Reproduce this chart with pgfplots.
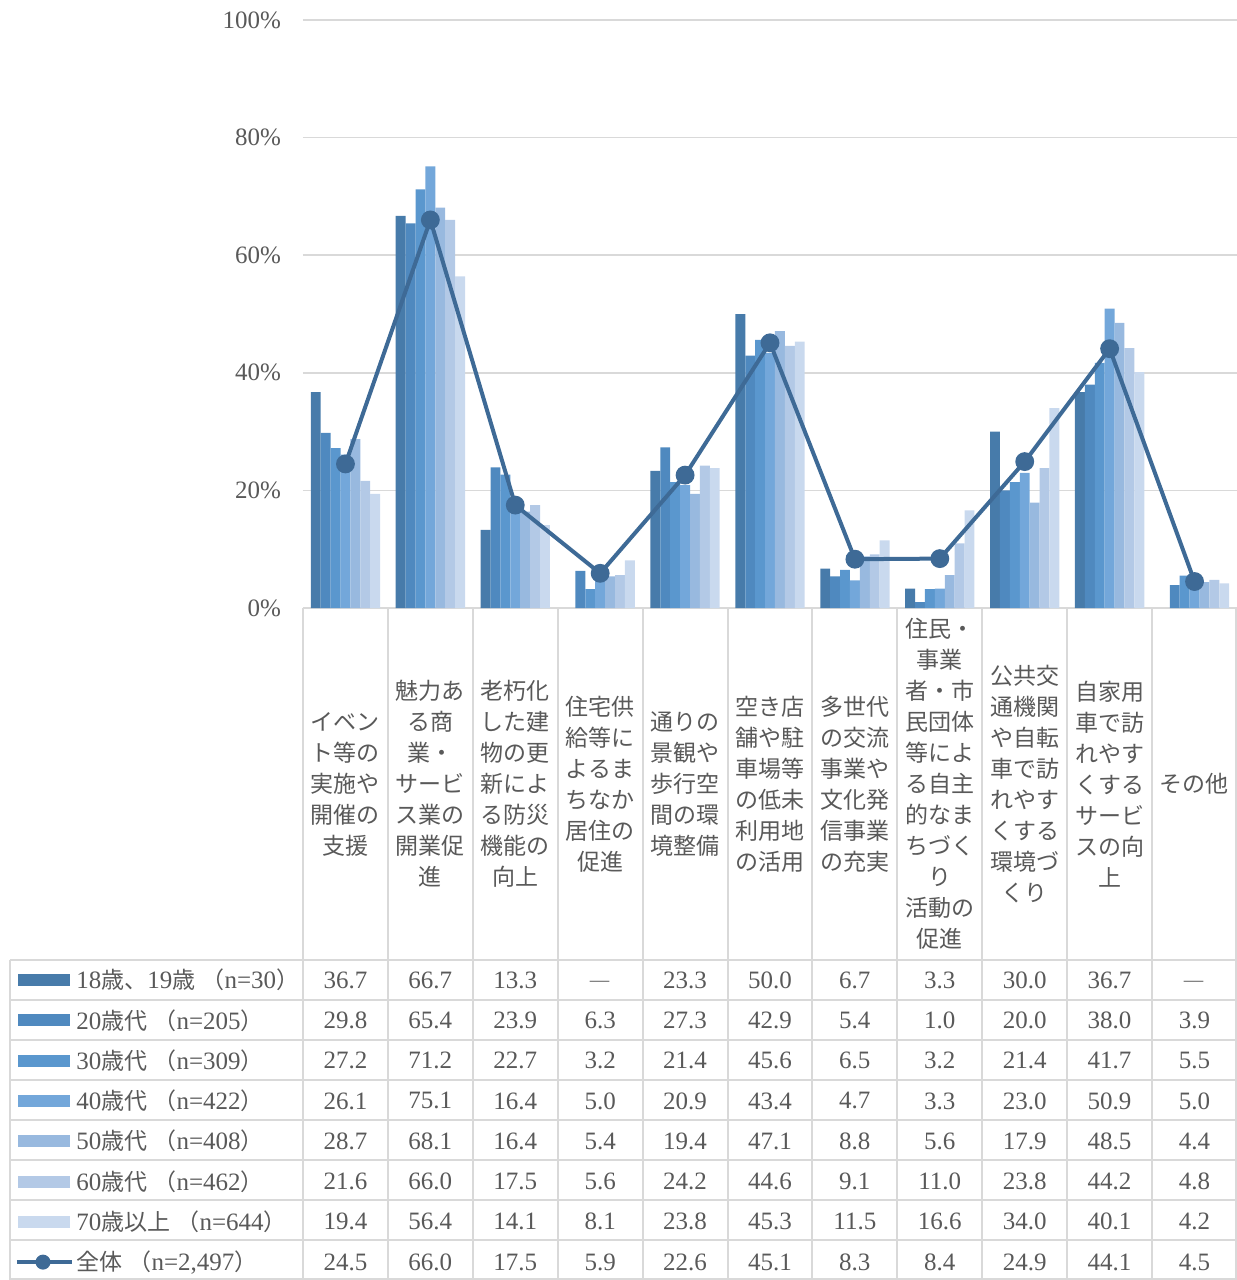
\documentclass[border=0pt]{standalone}
\usepackage{pgfplots}
\pgfplotsset{compat=1.18}
\usepackage{fontspec}
\setmainfont{Liberation Serif}
\newfontfamily\cjk{Noto Sans CJK JP}
\definecolor{c1}{HTML}{477BAA}
\definecolor{c2}{HTML}{4F89BF}
\definecolor{c3}{HTML}{5A97CE}
\definecolor{c4}{HTML}{73A7DA}
\definecolor{c5}{HTML}{98B9DF}
\definecolor{c6}{HTML}{B3C9E6}
\definecolor{c7}{HTML}{C9D9EE}
\definecolor{cline}{HTML}{3E6A96}
\definecolor{gridc}{HTML}{D9D9D9}
\definecolor{tgray}{HTML}{595959}
\newcommand\J[1]{{\cjk\fontsize{11.5}{15.5}\selectfont #1}}
\newcommand\numfont{\fontsize{12.5}{15}\selectfont}
\newcommand\dash{\raisebox{-5pt}[0pt][0pt]{\J{―}}}
\newcommand\tablerow[2]{\foreach \v [count=\i from 0] in {#2} {\node[font=\numfont, text=tgray, inner sep=0pt] at ({42.45+84.9*\i}, {-372-40.3*#1}) {\v};}}
\begin{document}
\begin{tikzpicture}[x=0.5pt,y=0.5pt]
\useasboundingbox (-303,-672) rectangle (934,608);
\begin{axis}[
  at={(0,0)}, anchor=south west,
  scale only axis, width=467pt, height=294pt,
  xmin=-0.5, xmax=10.5, ymin=0, ymax=100,
  clip=false,
  axis line style={draw=none},
  xtick=\empty,
  ytick={0,20,40,60,80,100},
  yticklabel={\pgfmathprintnumber{\tick}\%},
  /pgf/number format/assume math mode=true,
  yticklabel style={font=\numfont, text=tgray, xshift=-7.5pt},
  major tick length=0pt,
  ymajorgrids,
  grid style={gridc, line width=0.8pt},
]
\addplot[ybar, bar width=4.95pt, bar shift=-14.85pt, fill=c1, draw=none] coordinates {(0,36.7) (1,66.7) (2,13.3) (4,23.3) (5,50.0) (6,6.7) (7,3.3) (8,30.0) (9,36.7)};
\addplot[ybar, bar width=4.95pt, bar shift=-9.9pt, fill=c2, draw=none] coordinates {(0,29.8) (1,65.4) (2,23.9) (3,6.3) (4,27.3) (5,42.9) (6,5.4) (7,1.0) (8,20.0) (9,38.0) (10,3.9)};
\addplot[ybar, bar width=4.95pt, bar shift=-4.95pt, fill=c3, draw=none] coordinates {(0,27.2) (1,71.2) (2,22.7) (3,3.2) (4,21.4) (5,45.6) (6,6.5) (7,3.2) (8,21.4) (9,41.7) (10,5.5)};
\addplot[ybar, bar width=4.95pt, bar shift=0pt, fill=c4, draw=none] coordinates {(0,26.1) (1,75.1) (2,16.4) (3,5.0) (4,20.9) (5,43.4) (6,4.7) (7,3.3) (8,23.0) (9,50.9) (10,5.0)};
\addplot[ybar, bar width=4.95pt, bar shift=4.95pt, fill=c5, draw=none] coordinates {(0,28.7) (1,68.1) (2,16.4) (3,5.4) (4,19.4) (5,47.1) (6,8.8) (7,5.6) (8,17.9) (9,48.5) (10,4.4)};
\addplot[ybar, bar width=4.95pt, bar shift=9.9pt, fill=c6, draw=none] coordinates {(0,21.6) (1,66.0) (2,17.5) (3,5.6) (4,24.2) (5,44.6) (6,9.1) (7,11.0) (8,23.8) (9,44.2) (10,4.8)};
\addplot[ybar, bar width=4.95pt, bar shift=14.85pt, fill=c7, draw=none] coordinates {(0,19.4) (1,56.4) (2,14.1) (3,8.1) (4,23.8) (5,45.3) (6,11.5) (7,16.6) (8,34.0) (9,40.1) (10,4.2)};
\addplot[cline, line width=2pt, mark=*, mark size=3.7pt, mark options={fill=cline, draw=cline}] coordinates {(0,24.5) (1,66.0) (2,17.5) (3,5.9) (4,22.6) (5,45.1) (6,8.3) (7,8.4) (8,24.9) (9,44.1) (10,4.5)};
\end{axis}
% grid of label area and table
\foreach \k in {0,...,10} {\draw[gridc, line width=1pt] ({84.9*\k},0) -- ({84.9*\k},-672);}
\draw[gridc, line width=1pt] (933,0) -- (933,-672);
\draw[gridc, line width=1pt] (-293,-352) -- (-293,-672);
\foreach \r in {0,...,7} {\draw[gridc, line width=1pt] (-293,{-352-40*\r}) -- (934,{-352-40*\r});}
\draw[gridc, line width=1pt] (-293,-671) -- (934,-671);
% category labels
\foreach \t [count=\i from 0] in {
  {イベン\\ト等の\\実施や\\開催の\\支援},
  {魅力あ\\る商\\業・\\サービ\\ス業の\\開業促\\進},
  {老朽化\\した建\\物の更\\新によ\\る防災\\機能の\\向上},
  {住宅供\\給等に\\よるま\\ちなか\\居住の\\促進},
  {通りの\\景観や\\歩行空\\間の環\\境整備},
  {空き店\\舗や駐\\車場等\\の低未\\利用地\\の活用},
  {多世代\\の交流\\事業や\\文化発\\信事業\\の充実},
  {住民・\\事業\\者・市\\民団体\\等によ\\る自主\\的なま\\ちづく\\り\\活動の\\促進},
  {公共交\\通機関\\や自転\\車で訪\\れやす\\くする\\環境づ\\くり},
  {自家用\\車で訪\\れやす\\くする\\サービ\\スの向\\上},
  {その他}} {
  \node[align=center, text=tgray, font=\cjk\fontsize{11.5}{15.5}\selectfont, inner sep=0pt] at ({42.45+84.9*\i},-176) {\t};
}
% legend column
\foreach \c [count=\r from 0] in {c1,c2,c3,c4,c5,c6,c7} {\fill[\c] (-285,{-372-40.3*\r-6}) rectangle (-233,{-372-40.3*\r+6});}
\draw[cline, line width=2pt] (-286,{-372-40.3*7}) -- (-231,{-372-40.3*7});
\fill[cline] (-260,{-372-40.3*7}) circle (7.5);
\begin{scope}[every node/.style={anchor=west, text=tgray, font=\numfont, inner sep=0pt}]
\node at (-227,{-372-40.3*0}) {18\J{歳、}19\J{歳} \J{（}n=30\J{）}};
\node at (-227,{-372-40.3*1}) {20\J{歳代} \J{（}n=205\J{）}};
\node at (-227,{-372-40.3*2}) {30\J{歳代} \J{（}n=309\J{）}};
\node at (-227,{-372-40.3*3}) {40\J{歳代} \J{（}n=422\J{）}};
\node at (-227,{-372-40.3*4}) {50\J{歳代} \J{（}n=408\J{）}};
\node at (-227,{-372-40.3*5}) {60\J{歳代} \J{（}n=462\J{）}};
\node at (-227,{-372-40.3*6}) {70\J{歳以上} \J{（}n=644\J{）}};
\node at (-227,{-372-40.3*7}) {\J{全体} \J{（}n=2,497\J{）}};
\end{scope}
% table values
\tablerow{0}{36.7,66.7,13.3,\dash,23.3,50.0,6.7,3.3,30.0,36.7,\dash}
\tablerow{1}{29.8,65.4,23.9,6.3,27.3,42.9,5.4,1.0,20.0,38.0,3.9}
\tablerow{2}{27.2,71.2,22.7,3.2,21.4,45.6,6.5,3.2,21.4,41.7,5.5}
\tablerow{3}{26.1,75.1,16.4,5.0,20.9,43.4,4.7,3.3,23.0,50.9,5.0}
\tablerow{4}{28.7,68.1,16.4,5.4,19.4,47.1,8.8,5.6,17.9,48.5,4.4}
\tablerow{5}{21.6,66.0,17.5,5.6,24.2,44.6,9.1,11.0,23.8,44.2,4.8}
\tablerow{6}{19.4,56.4,14.1,8.1,23.8,45.3,11.5,16.6,34.0,40.1,4.2}
\tablerow{7}{24.5,66.0,17.5,5.9,22.6,45.1,8.3,8.4,24.9,44.1,4.5}
\end{tikzpicture}
\end{document}
